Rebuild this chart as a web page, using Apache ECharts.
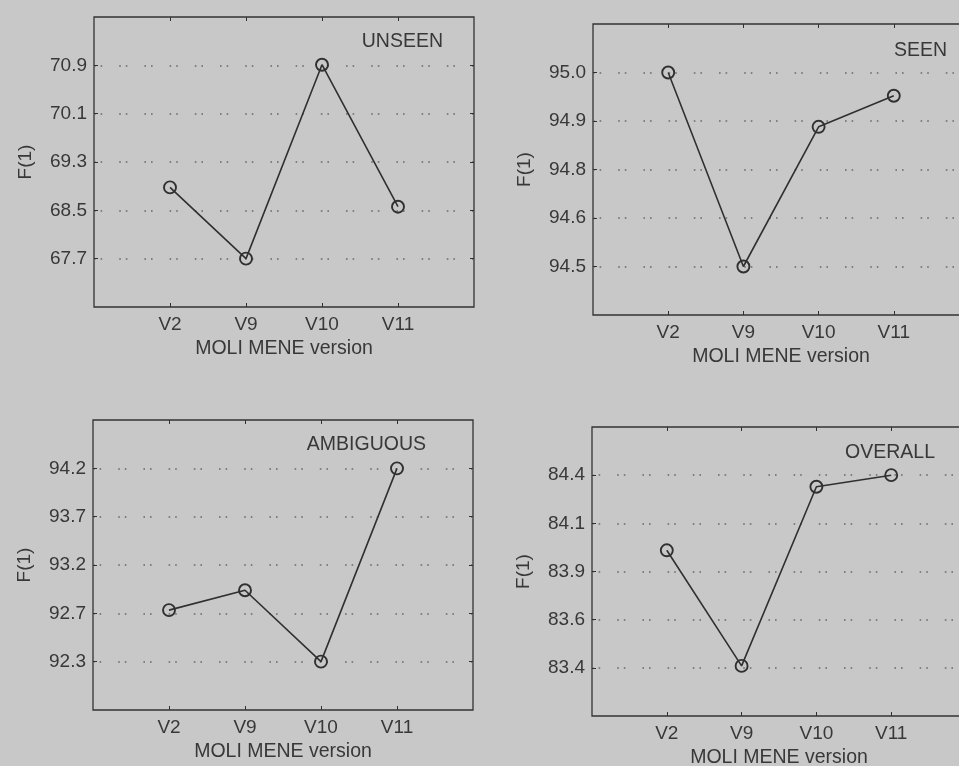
<!DOCTYPE html>
<html>
<head>
<meta charset="utf-8">
<script src="https://cdn.jsdelivr.net/npm/echarts@6/dist/echarts.min.js"></script>
<style>
  html, body { margin: 0; padding: 0; background: #c7c7c7; }
  #chart { width: 959px; height: 766px; }
</style>
</head>
<body>
<div id="chart"></div>
<script>
// ---- data ----
const categories = ['V2', 'V9', 'V10', 'V11'];
const panelTitles = ['UNSEEN', 'SEEN', 'AMBIGUOUS', 'OVERALL'];
const xAxisName = 'MOLI MENE version';
const yAxisName = 'F(1)';

const unseenF1    = [68.88, 67.70, 70.91, 68.56];
const seenF1      = [95.00, 94.50, 94.86, 94.94];
const ambiguousF1 = [92.77, 92.97, 92.25, 94.20];
const overallF1   = [83.99, 83.39, 84.32, 84.38];

const unseenTicks    = [67.7, 68.5, 69.3, 70.1, 70.9];
const unseenLabels   = ['67.7', '68.5', '69.3', '70.1', '70.9'];
const seenTicks      = [94.5, 94.625, 94.75, 94.875, 95.0];
const seenLabels     = ['94.5', '94.6', '94.8', '94.9', '95.0'];
const ambiguousTicks = [92.25, 92.7375, 93.225, 93.7125, 94.2];
const ambiguousLabels= ['92.3', '92.7', '93.2', '93.7', '94.2'];
const overallTicks   = [83.38, 83.63, 83.88, 84.13, 84.38];
const overallLabels  = ['83.4', '83.6', '83.9', '84.1', '84.4'];

// ---- layout / style ----
const panels = [
  { values: unseenF1,    ticks: unseenTicks,    labels: unseenLabels,    grid: { left: 94,  top: 17,  width: 380, height: 290 }, title: { right: 516, top: 32 } },
  { values: seenF1,      ticks: seenTicks,      labels: seenLabels,      grid: { left: 593, top: 24,  width: 376, height: 291 }, title: { right: 12,  top: 41 } },
  { values: ambiguousF1, ticks: ambiguousTicks, labels: ambiguousLabels, grid: { left: 93,  top: 420, width: 380, height: 290 }, title: { right: 533, top: 435 } },
  { values: overallF1,   ticks: overallTicks,   labels: overallLabels,   grid: { left: 592, top: 427, width: 374, height: 289 }, title: { right: 24,  top: 443 } }
];

const FONT = '"Liberation Sans", Arial, Helvetica, sans-serif';
const TXT = '#383838';
const LINE = '#303030';
const FS = 19;
const paddedCats = [''].concat(categories, ['']);

const option = {
  backgroundColor: '#c8c8c8',
  animation: false,
  textStyle: { fontFamily: FONT },
  title: [], grid: [], xAxis: [], yAxis: [], series: []
};

panels.forEach((p, i) => {
  const step = p.ticks[1] - p.ticks[0];
  const yMin = p.ticks[0] - step;
  const yMax = p.ticks[p.ticks.length - 1] + step;
  const lab = (v) => {
    let best = 0;
    p.ticks.forEach((t, k) => { if (Math.abs(t - v) < Math.abs(p.ticks[best] - v)) best = k; });
    return p.labels[best];
  };

  option.title.push({
    text: panelTitles[i], right: p.title.right, top: p.title.top, padding: 0,
    textStyle: { fontFamily: FONT, fontSize: 19.5, fontWeight: 'normal', color: TXT }
  });
  option.grid.push(Object.assign({
    show: true, borderColor: '#333333', borderWidth: 1.3, backgroundColor: 'transparent',
    containLabel: false, outerBoundsMode: 'none'
  }, p.grid));

  // bottom category axis
  option.xAxis.push({
    type: 'category', gridIndex: i, data: paddedCats, boundaryGap: false,
    position: 'bottom',
    axisLine: { show: false },
    axisTick: { show: true, inside: true, length: 4, lineStyle: { color: LINE },
      interval: (idx) => idx > 0 && idx < paddedCats.length - 1 },
    axisLabel: { color: TXT, fontSize: FS, fontFamily: FONT, margin: 8, interval: 0 },
    splitLine: { show: false },
    name: xAxisName, nameLocation: 'middle', nameGap: 32,
    nameTextStyle: { color: TXT, fontSize: 19.5, fontFamily: FONT }
  });
  // top axis (ticks only)
  option.xAxis.push({
    type: 'category', gridIndex: i, data: paddedCats, boundaryGap: false,
    position: 'top',
    axisLine: { show: false },
    axisTick: { show: true, inside: true, length: 4, lineStyle: { color: LINE },
      interval: (idx) => idx > 0 && idx < paddedCats.length - 1 },
    axisLabel: { show: false }, splitLine: { show: false }
  });

  // left value axis
  option.yAxis.push({
    type: 'value', gridIndex: i, min: yMin, max: yMax, position: 'left',
    axisLine: { show: false },
    axisTick: { show: true, inside: true, length: 4, customValues: p.ticks, lineStyle: { color: LINE } },
    axisLabel: { color: TXT, fontSize: FS, fontFamily: FONT, margin: 7, customValues: p.ticks, formatter: lab },
    splitLine: { show: true, lineStyle: { color: '#6a6a6a', width: 1.6, type: [1.6, 5, 1.6, 17] } },
    name: yAxisName, nameLocation: 'middle', nameRotate: 90, nameGap: 59,
    nameTextStyle: { color: TXT, fontSize: FS, fontFamily: FONT }
  });
  // right value axis (ticks only)
  option.yAxis.push({
    type: 'value', gridIndex: i, min: yMin, max: yMax, position: 'right',
    axisLine: { show: false },
    axisTick: { show: true, inside: true, length: 4, customValues: p.ticks, lineStyle: { color: LINE } },
    axisLabel: { show: false, customValues: p.ticks }, splitLine: { show: false }
  });

  option.series.push({
    type: 'line', xAxisIndex: 2 * i, yAxisIndex: 2 * i,
    data: categories.map((c, k) => [c, p.values[k]]),
    symbol: 'circle', symbolSize: 12,
    lineStyle: { color: LINE, width: 1.6 },
    itemStyle: { color: 'rgba(0,0,0,0)', borderColor: LINE, borderWidth: 1.9 },
    emphasis: { disabled: true }
  });
});

const chart = echarts.init(document.getElementById('chart'), null, { renderer: 'canvas' });
chart.setOption(option);
</script>
</body>
</html>
